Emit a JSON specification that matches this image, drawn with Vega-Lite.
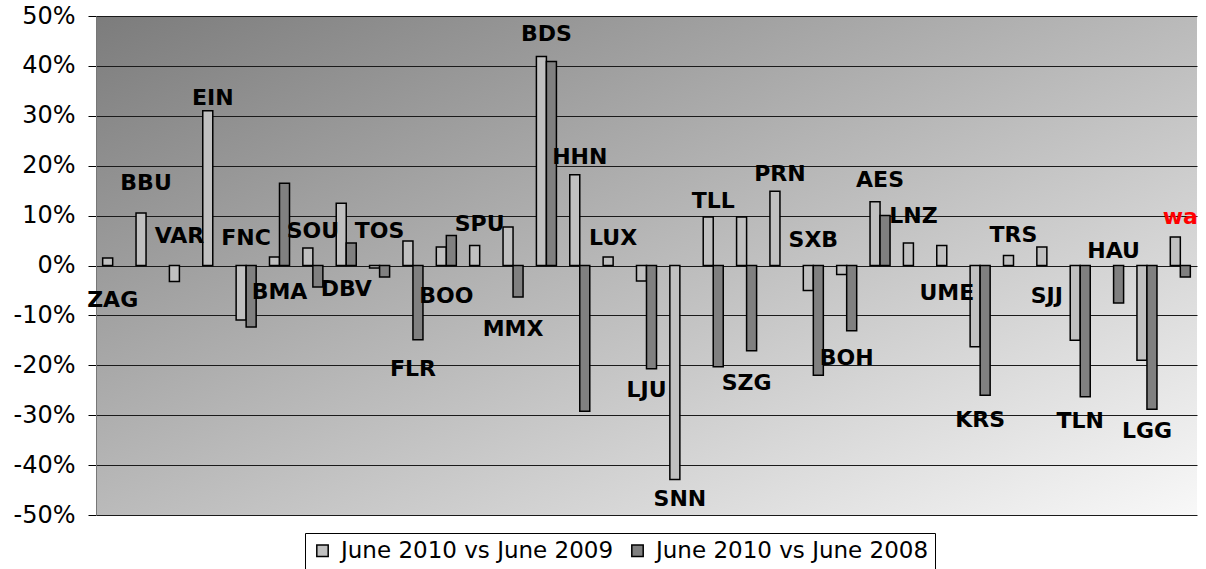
{
  "$schema": "https://vega.github.io/schema/vega-lite/v6.json",
  "width": 1101,
  "height": 499,
  "autosize": "none",
  "padding": {"left": 96, "top": 16, "right": 9, "bottom": 54},
  "background": "white",
  "config": {
    "view": {
      "stroke": null,
      "fill": {"gradient": "linear", "x1": 0, "y1": 0, "x2": 1, "y2": 1,
        "stops": [{"offset": 0, "color": "#7c7c7c"}, {"offset": 1, "color": "#f8f8f8"}]}
    },
    "font": "DejaVu Sans"
  },
  "datasets": {
    "bars": [
      {"code": "ZAG", "series": "June 2010 vs June 2009", "value": 0.015},
      {"code": "BBU", "series": "June 2010 vs June 2009", "value": 0.105},
      {"code": "VAR", "series": "June 2010 vs June 2009", "value": -0.032},
      {"code": "EIN", "series": "June 2010 vs June 2009", "value": 0.31},
      {"code": "FNC", "series": "June 2010 vs June 2009", "value": -0.109},
      {"code": "FNC", "series": "June 2010 vs June 2008", "value": -0.123},
      {"code": "BMA", "series": "June 2010 vs June 2009", "value": 0.017},
      {"code": "BMA", "series": "June 2010 vs June 2008", "value": 0.165},
      {"code": "SOU", "series": "June 2010 vs June 2009", "value": 0.035},
      {"code": "SOU", "series": "June 2010 vs June 2008", "value": -0.043},
      {"code": "DBV", "series": "June 2010 vs June 2009", "value": 0.125},
      {"code": "DBV", "series": "June 2010 vs June 2008", "value": 0.045},
      {"code": "TOS", "series": "June 2010 vs June 2009", "value": -0.005},
      {"code": "TOS", "series": "June 2010 vs June 2008", "value": -0.023},
      {"code": "FLR", "series": "June 2010 vs June 2009", "value": 0.049},
      {"code": "FLR", "series": "June 2010 vs June 2008", "value": -0.149},
      {"code": "BOO", "series": "June 2010 vs June 2009", "value": 0.037},
      {"code": "BOO", "series": "June 2010 vs June 2008", "value": 0.06},
      {"code": "SPU", "series": "June 2010 vs June 2009", "value": 0.04},
      {"code": "MMX", "series": "June 2010 vs June 2009", "value": 0.077},
      {"code": "MMX", "series": "June 2010 vs June 2008", "value": -0.063},
      {"code": "BDS", "series": "June 2010 vs June 2009", "value": 0.419},
      {"code": "BDS", "series": "June 2010 vs June 2008", "value": 0.409},
      {"code": "HHN", "series": "June 2010 vs June 2009", "value": 0.182},
      {"code": "HHN", "series": "June 2010 vs June 2008", "value": -0.292},
      {"code": "LUX", "series": "June 2010 vs June 2009", "value": 0.017},
      {"code": "LJU", "series": "June 2010 vs June 2009", "value": -0.031},
      {"code": "LJU", "series": "June 2010 vs June 2008", "value": -0.207},
      {"code": "SNN", "series": "June 2010 vs June 2009", "value": -0.429},
      {"code": "TLL", "series": "June 2010 vs June 2009", "value": 0.097},
      {"code": "TLL", "series": "June 2010 vs June 2008", "value": -0.203},
      {"code": "SZG", "series": "June 2010 vs June 2009", "value": 0.097},
      {"code": "SZG", "series": "June 2010 vs June 2008", "value": -0.171},
      {"code": "PRN", "series": "June 2010 vs June 2009", "value": 0.149},
      {"code": "SXB", "series": "June 2010 vs June 2009", "value": -0.05},
      {"code": "SXB", "series": "June 2010 vs June 2008", "value": -0.22},
      {"code": "BOH", "series": "June 2010 vs June 2009", "value": -0.018},
      {"code": "BOH", "series": "June 2010 vs June 2008", "value": -0.131},
      {"code": "AES", "series": "June 2010 vs June 2009", "value": 0.128},
      {"code": "AES", "series": "June 2010 vs June 2008", "value": 0.1},
      {"code": "LNZ", "series": "June 2010 vs June 2009", "value": 0.045},
      {"code": "UME", "series": "June 2010 vs June 2009", "value": 0.04},
      {"code": "KRS", "series": "June 2010 vs June 2009", "value": -0.163},
      {"code": "KRS", "series": "June 2010 vs June 2008", "value": -0.26},
      {"code": "TRS", "series": "June 2010 vs June 2009", "value": 0.02},
      {"code": "SJJ", "series": "June 2010 vs June 2009", "value": 0.037},
      {"code": "TLN", "series": "June 2010 vs June 2009", "value": -0.15},
      {"code": "TLN", "series": "June 2010 vs June 2008", "value": -0.263},
      {"code": "HAU", "series": "June 2010 vs June 2008", "value": -0.075},
      {"code": "LGG", "series": "June 2010 vs June 2009", "value": -0.19},
      {"code": "LGG", "series": "June 2010 vs June 2008", "value": -0.288},
      {"code": "wa", "series": "June 2010 vs June 2009", "value": 0.057},
      {"code": "wa", "series": "June 2010 vs June 2008", "value": -0.023}
    ],
    "labels": [
      {"code": "ZAG", "labelValue": -0.07},
      {"code": "BBU", "labelValue": 0.165},
      {"code": "VAR", "labelValue": 0.06},
      {"code": "EIN", "labelValue": 0.335},
      {"code": "FNC", "labelValue": 0.056},
      {"code": "BMA", "labelValue": -0.053},
      {"code": "SOU", "labelValue": 0.07},
      {"code": "DBV", "labelValue": -0.047},
      {"code": "TOS", "labelValue": 0.07},
      {"code": "FLR", "labelValue": -0.207},
      {"code": "BOO", "labelValue": -0.061},
      {"code": "SPU", "labelValue": 0.083},
      {"code": "MMX", "labelValue": -0.127},
      {"code": "BDS", "labelValue": 0.463},
      {"code": "HHN", "labelValue": 0.217},
      {"code": "LUX", "labelValue": 0.055},
      {"code": "LJU", "labelValue": -0.25},
      {"code": "SNN", "labelValue": -0.467},
      {"code": "TLL", "labelValue": 0.129},
      {"code": "SZG", "labelValue": -0.235},
      {"code": "PRN", "labelValue": 0.184},
      {"code": "SXB", "labelValue": 0.051},
      {"code": "BOH", "labelValue": -0.185},
      {"code": "AES", "labelValue": 0.171},
      {"code": "LNZ", "labelValue": 0.1},
      {"code": "UME", "labelValue": -0.055},
      {"code": "KRS", "labelValue": -0.309},
      {"code": "TRS", "labelValue": 0.062},
      {"code": "SJJ", "labelValue": -0.062},
      {"code": "TLN", "labelValue": -0.311},
      {"code": "HAU", "labelValue": 0.03},
      {"code": "LGG", "labelValue": -0.331},
      {"code": "wa", "labelValue": 0.098}
    ]
  },
  "encoding": {
    "x": {
      "field": "code",
      "type": "nominal",
      "axis": null,
      "scale": {
        "domain": ["ZAG","BBU","VAR","EIN","FNC","BMA","SOU","DBV","TOS","FLR","BOO","SPU","MMX","BDS","HHN","LUX","LJU","SNN","TLL","SZG","PRN","SXB","BOH","AES","LNZ","UME","KRS","TRS","SJJ","TLN","HAU","LGG","wa"],
        "paddingInner": 0.4,
        "paddingOuter": 0.2
      }
    }
  },
  "layer": [
    {
      "data": {"name": "bars"},
      "mark": {"type": "bar", "stroke": "black", "strokeWidth": 1.5},
      "encoding": {
        "xOffset": {
          "field": "series",
          "type": "nominal",
          "scale": {"domain": ["June 2010 vs June 2009", "June 2010 vs June 2008"], "paddingInner": 0, "paddingOuter": 0}
        },
        "y": {
          "field": "value",
          "type": "quantitative",
          "scale": {"domain": [-0.5, 0.5], "nice": false, "zero": false},
          "axis": {
            "title": null,
            "values": [-0.5, -0.4, -0.3, -0.2, -0.1, 0, 0.1, 0.2, 0.3, 0.4, 0.5],
            "labelExpr": "(datum.value < -0.0001 ? '-' : '') + format(abs(datum.value), '.0%')",
            "labelFont": "DejaVu Sans",
            "labelFontSize": 24,
            "labelColor": "black",
            "labelPadding": 13,
            "tickSize": 8,
            "tickColor": "black",
            "tickWidth": 1,
            "domainColor": "#777777",
            "domainWidth": 1,
            "grid": true,
            "gridColor": "#1a1a1a",
            "gridWidth": 1,
            "gridOpacity": 1
          }
        },
        "color": {
          "field": "series",
          "type": "nominal",
          "scale": {"domain": ["June 2010 vs June 2009", "June 2010 vs June 2008"], "range": ["#c0c0c0", "#808080"]},
          "legend": {
            "title": null,
            "orient": "none",
            "legendX": 209,
            "legendY": 517,
            "direction": "horizontal",
            "labelFont": "DejaVu Sans",
            "labelFontSize": 23,
            "labelColor": "black",
            "labelLimit": 600,
            "labelOffset": 7,
            "symbolType": "square",
            "symbolSize": 130,
            "symbolStrokeColor": "black",
            "symbolStrokeWidth": 1.5,
            "symbolOpacity": 1,
            "strokeColor": "black",
            "fillColor": "white",
            "padding": 6,
            "columnPadding": 12
          }
        }
      }
    },
    {
      "data": {"name": "labels"},
      "mark": {"type": "text", "font": "DejaVu Sans", "fontSize": 22, "fontWeight": "bold", "align": "center", "baseline": "middle"},
      "encoding": {
        "y": {"field": "labelValue", "type": "quantitative"},
        "text": {"field": "code"},
        "color": {"condition": {"test": "datum.code === 'wa'", "value": "#ff0000"}, "value": "black"}
      }
    }
  ]
}
